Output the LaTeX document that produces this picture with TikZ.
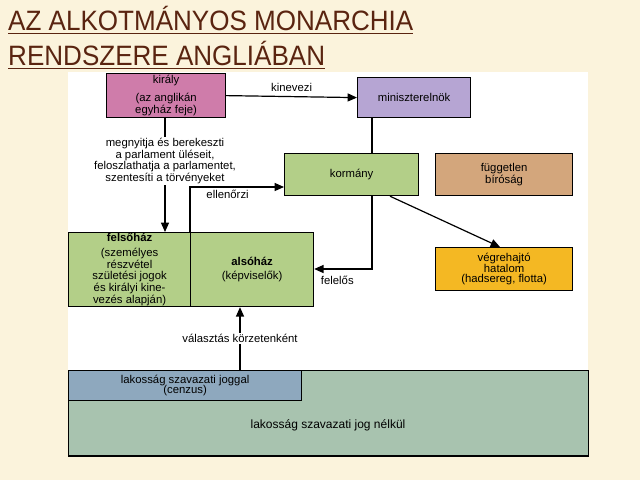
\documentclass[tikz,border=0pt]{standalone}
\usepackage{fontspec}
\setmainfont{Liberation Sans}
\usetikzlibrary{arrows.meta}
\definecolor{bgc}{HTML}{FBF3DC}
\definecolor{titc}{HTML}{5A2410}
\definecolor{pinkc}{HTML}{CF7CAA}
\definecolor{lavc}{HTML}{B6A5D3}
\definecolor{grc}{HTML}{B3CF88}
\definecolor{tanc}{HTML}{D3A67C}
\definecolor{orc}{HTML}{F4B823}
\definecolor{bluc}{HTML}{8EA8BE}
\definecolor{ggc}{HTML}{A8C3AF}
\tikzset{
 bx/.style={draw=black,line width=0.9pt,inner sep=0pt,font=\fontsize{8.5}{8}\selectfont,align=center},
 ar/.style={line width=0.9pt,-{Triangle[length=7pt,width=6pt]}},
 ln/.style={line width=0.9pt},
 lb/.style={font=\fontsize{8.5}{8}\selectfont,align=center,inner sep=1pt},
}
\begin{document}
\begin{tikzpicture}[x=0.75pt,y=-0.75pt]
\fill[bgc] (0,0) rectangle (640,480);
\useasboundingbox (0,0) rectangle (640,480);
\fill[white] (68,72) rectangle (588,456);
\node[anchor=west,text=titc,font=\fontsize{21}{24}\selectfont,xscale=0.93,inner sep=0pt] (t1) at (8,20) {\underline{AZ ALKOTMÁNYOS MONARCHIA}};
\node[anchor=west,text=titc,font=\fontsize{21}{24}\selectfont,xscale=0.93,inner sep=0pt] (t2) at (8,55) {\underline{RENDSZERE ANGLIÁBAN}};
% bottom
\node[bx,fill=ggc,minimum width=390pt,minimum height=64pt,anchor=north west] (nj) at (68,370) {};
\node[lb,font=\fontsize{9}{10}\selectfont] (njt) at (328,425) {lakosság szavazati jog nélkül};
\node[bx,fill=bluc,minimum width=174.75pt,minimum height=22.5pt,anchor=north west] (vj) at (68,370) {lakosság szavazati joggal\\(cenzus)};
% boxes
\node[bx,fill=pinkc,minimum width=89.25pt,minimum height=33pt,anchor=north west] (kir) at (106,73) {király\\[5pt](az anglikán\\egyház feje)};
\node[bx,fill=lavc,minimum width=84.75pt,minimum height=30pt,anchor=north west] (min) at (357,77) {miniszterelnök};
\node[bx,fill=grc,minimum width=100.5pt,minimum height=31.5pt,anchor=north west] (kor) at (284,153) {kormány};
\node[bx,fill=tanc,minimum width=102.75pt,minimum height=31.5pt,anchor=north west] (fug) at (435,153) {független\\bíróság};
\node[bx,fill=orc,minimum width=102.75pt,minimum height=32.25pt,anchor=north west] (veg) at (435,247) {végrehajtó\\hatalom\\(hadsereg, flotta)};
\node[bx,fill=grc,minimum width=91.5pt,minimum height=55.5pt,anchor=north west] (fel) at (68,232) {\textbf{felsőház}\\[3pt](személyes\\részvétel\\születési jogok\\és királyi kine-\\vezés alapján)};
\node[bx,fill=grc,minimum width=92.25pt,minimum height=55.5pt,anchor=north west] (als) at (190,232) {\textbf{alsóház}\\[3pt](képviselők)};
% connectors
\draw[ar] (kir.east) -- (min.west) node[lb,midway,above=2pt] {kinevezi};
\draw[ar] (165,117) -- (fel.north -| 165,0) node[lb,pos=0.38,fill=white] {megnyitja és berekeszti\\a parlament üléseit,\\feloszlathatja a parlamentet,\\szentesíti a törvényeket};
\draw[ln] (min.south -| 372,0) -- (kor.north -| 372,0);
\draw[ar] (als.north west) |- (kor.west |- 0,187) node[lb,pos=0.7,below=1pt] {ellenőrzi};
\draw[ar] (kor.south -| 372,0) |- (als.east |- 0,269) node[lb,pos=0.8,below=4pt] {felelős};
\draw[ar] (kor.south -| 390,0) -- (veg.north -| 500,0);
\draw[ar] (vj.north -| 240,0) -- (als.south -| 240,0) node[lb,midway,fill=white] {választás körzetenként};
\end{tikzpicture}
\end{document}
